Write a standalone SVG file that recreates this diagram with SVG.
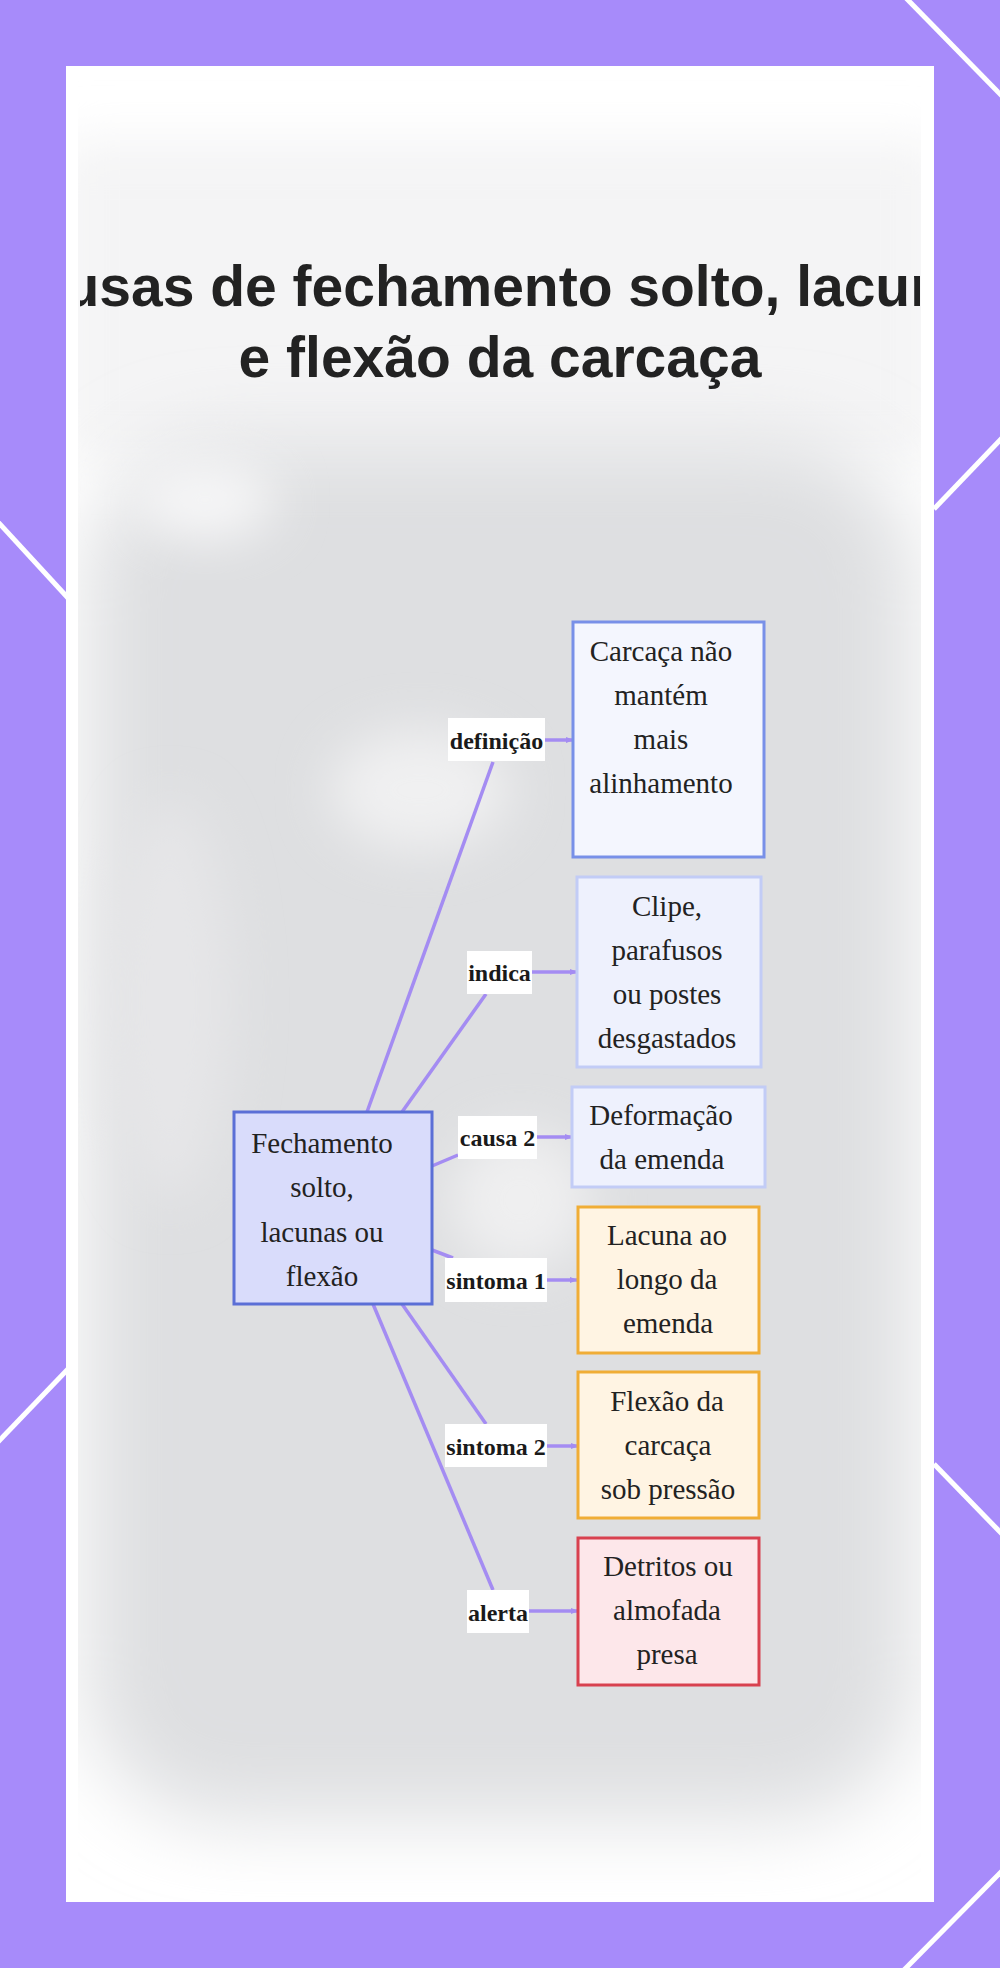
<svg xmlns="http://www.w3.org/2000/svg" width="1000" height="1968" viewBox="0 0 1000 1968">
  <style>
    .deco { stroke: #ffffff; stroke-width: 5; fill: none; }
    .title { font-family: "Liberation Sans", Arial, sans-serif; font-weight: bold; font-size: 57px; fill: #222222; text-anchor: middle; }
    .ntext { font-family: "Liberation Serif", "Times New Roman", serif; font-size: 29px; fill: #222222; text-anchor: middle; }
    .ltext { font-family: "Liberation Serif", "Times New Roman", serif; font-weight: bold; font-size: 24px; fill: #1a1a1a; text-anchor: middle; }
    .lbox { fill: #ffffff; stroke: none; }
    .edge { stroke: #a48cf2; stroke-width: 3.5; fill: none; }
    .arrow { stroke: #a48cf2; stroke-width: 3.5; fill: none; marker-end: url(#ah); }
    .center { fill: #d9dcfb; stroke: #5b6fd6; stroke-width: 3; }
    .blue1 { fill: #f4f6fe; stroke: #7890e8; stroke-width: 3; }
    .blue2 { fill: #eef1fd; stroke: #c2ccf6; stroke-width: 3; }
    .amber { fill: #fff4e3; stroke: #f0ad36; stroke-width: 3; }
    .red { fill: #fde7ea; stroke: #d8414f; stroke-width: 3; }
  </style>
  <defs>
    <marker id="ah" viewBox="0 0 10 10" refX="9" refY="5" markerWidth="8" markerHeight="8" markerUnits="userSpaceOnUse" orient="auto">
      <path d="M0,1 L10,5 L0,9 Z" fill="#a48cf2"/>
    </marker>
    <filter id="blur40" x="-30%" y="-30%" width="160%" height="160%">
      <feGaussianBlur stdDeviation="40"/>
    </filter>
    <filter id="blur25" x="-50%" y="-50%" width="200%" height="200%">
      <feGaussianBlur stdDeviation="25"/>
    </filter>
    <clipPath id="panelClip">
      <rect x="78" y="66" width="843" height="1835"/>
    </clipPath>
    <clipPath id="titleClip">
      <rect x="80" y="200" width="840" height="220"/>
    </clipPath>
  </defs>

  <!-- purple frame background -->
  <rect x="0" y="0" width="1000" height="1968" fill="#a78bfa"/>
  <line class="deco" x1="906" y1="-2" x2="1002" y2="96"/>
  <line class="deco" x1="934" y1="509" x2="1002" y2="438"/>
  <line class="deco" x1="-2" y1="522" x2="68" y2="598"/>
  <line class="deco" x1="-2" y1="1442" x2="68" y2="1369"/>
  <line class="deco" x1="934" y1="1464" x2="1002" y2="1534"/>
  <line class="deco" x1="904" y1="1970" x2="1002" y2="1871"/>

  <!-- white panel -->
  <rect x="66" y="66" width="868" height="1836" fill="#ffffff"/>

  <!-- blurred grey backdrop -->
  <g clip-path="url(#panelClip)">
    <rect x="60" y="140" width="880" height="320" fill="#f4f4f5" filter="url(#blur25)"/>
    <rect x="85" y="440" width="830" height="1380" rx="140" fill="#dedfe1" filter="url(#blur40)"/>
    <ellipse cx="205" cy="500" rx="70" ry="40" fill="#f6f6f7" filter="url(#blur25)"/>
    <ellipse cx="420" cy="790" rx="90" ry="60" fill="#f0f0f1" filter="url(#blur25)"/>
    <ellipse cx="520" cy="1200" rx="70" ry="70" fill="#efeff0" filter="url(#blur25)"/>
    <ellipse cx="170" cy="1000" rx="60" ry="200" fill="#e6e6e8" filter="url(#blur25)"/>
  </g>

  <!-- title -->
  <g id="title" clip-path="url(#titleClip)">
    <text class="title" x="500" y="306">Causas de fechamento solto, lacunas</text>
    <text class="title" x="500" y="377">e flexão da carcaça</text>
  </g>

  <!-- connectors -->
  <g id="connectors">
    <line class="edge" x1="367" y1="1112" x2="493" y2="762"/>
    <line class="arrow" x1="545" y1="740" x2="573" y2="740"/>
    <line class="edge" x1="402" y1="1112" x2="486" y2="994"/>
    <line class="arrow" x1="532" y1="972" x2="577" y2="972"/>
    <line class="edge" x1="432" y1="1166" x2="458" y2="1155"/>
    <line class="arrow" x1="537" y1="1137" x2="572" y2="1137"/>
    <line class="edge" x1="432" y1="1250" x2="453" y2="1258"/>
    <line class="arrow" x1="547" y1="1280" x2="577" y2="1280"/>
    <line class="edge" x1="402" y1="1304" x2="486" y2="1424"/>
    <line class="arrow" x1="547" y1="1446" x2="578" y2="1446"/>
    <line class="edge" x1="373" y1="1304" x2="493" y2="1590"/>
    <line class="arrow" x1="529" y1="1611" x2="578" y2="1611"/>

    <g id="label-definicao">
      <rect class="lbox" x="448" y="718" width="97" height="43"/>
      <text class="ltext" x="496.5" y="749">definição</text>
    </g>
    <g id="label-indica">
      <rect class="lbox" x="467" y="951" width="65" height="43"/>
      <text class="ltext" x="499.5" y="981">indica</text>
    </g>
    <g id="label-causa2">
      <rect class="lbox" x="458" y="1116" width="79" height="43"/>
      <text class="ltext" x="497.5" y="1146">causa 2</text>
    </g>
    <g id="label-sintoma1">
      <rect class="lbox" x="445" y="1258" width="102" height="44"/>
      <text class="ltext" x="496" y="1289">sintoma 1</text>
    </g>
    <g id="label-sintoma2">
      <rect class="lbox" x="445" y="1424" width="102" height="43"/>
      <text class="ltext" x="496" y="1455">sintoma 2</text>
    </g>
    <g id="label-alerta">
      <rect class="lbox" x="467" y="1590" width="62" height="43"/>
      <text class="ltext" x="498" y="1621">alerta</text>
    </g>
  </g>

  <!-- nodes -->
  <g id="node-center">
    <rect class="center" x="234" y="1112" width="198" height="192"/>
    <text class="ntext" x="322" y="1153">Fechamento</text>
    <text class="ntext" x="322" y="1197">solto,</text>
    <text class="ntext" x="322" y="1242">lacunas ou</text>
    <text class="ntext" x="322" y="1286">flexão</text>
  </g>
  <g id="node-definicao">
    <rect class="blue1" x="573" y="622" width="191" height="235"/>
    <text class="ntext" x="661" y="661">Carcaça não</text>
    <text class="ntext" x="661" y="705">mantém</text>
    <text class="ntext" x="661" y="749">mais</text>
    <text class="ntext" x="661" y="793">alinhamento</text>
  </g>
  <g id="node-indica">
    <rect class="blue2" x="577" y="877" width="184" height="190"/>
    <text class="ntext" x="667" y="916">Clipe,</text>
    <text class="ntext" x="667" y="960">parafusos</text>
    <text class="ntext" x="667" y="1004">ou postes</text>
    <text class="ntext" x="667" y="1048">desgastados</text>
  </g>
  <g id="node-causa2">
    <rect class="blue2" x="572" y="1087" width="193" height="100"/>
    <text class="ntext" x="661" y="1125">Deformação</text>
    <text class="ntext" x="662" y="1169">da emenda</text>
  </g>
  <g id="node-sintoma1">
    <rect class="amber" x="578" y="1207" width="181" height="146"/>
    <text class="ntext" x="667" y="1245">Lacuna ao</text>
    <text class="ntext" x="667" y="1289">longo da</text>
    <text class="ntext" x="668" y="1333">emenda</text>
  </g>
  <g id="node-sintoma2">
    <rect class="amber" x="578" y="1372" width="181" height="146"/>
    <text class="ntext" x="667" y="1411">Flexão da</text>
    <text class="ntext" x="668" y="1455">carcaça</text>
    <text class="ntext" x="668" y="1499">sob pressão</text>
  </g>
  <g id="node-alerta">
    <rect class="red" x="578" y="1538" width="181" height="147"/>
    <text class="ntext" x="668" y="1576">Detritos ou</text>
    <text class="ntext" x="667" y="1620">almofada</text>
    <text class="ntext" x="667" y="1664">presa</text>
  </g>
</svg>
